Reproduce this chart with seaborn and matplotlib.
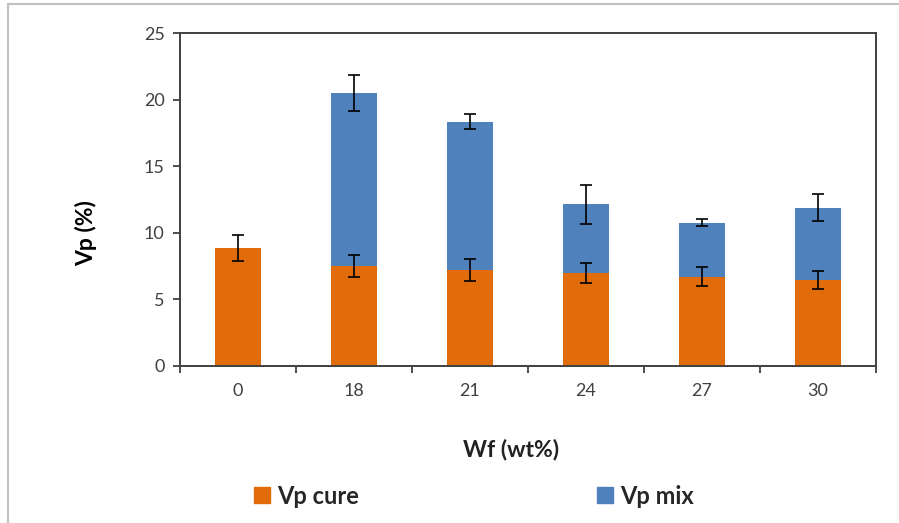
import numpy as np
import pandas as pd
import matplotlib
matplotlib.use("Agg")
import matplotlib.pyplot as plt
import seaborn as sns
from matplotlib.patches import Rectangle, Patch

# -------------------------------
# Data
# -------------------------------
wf_labels = ["0", "18", "21", "24", "27", "30"]
vp_cure = [8.85, 7.5, 7.2, 6.95, 6.7, 6.45]
vp_cure_err = [0.95, 0.8, 0.82, 0.75, 0.7, 0.7]
vp_mix = [0.0, 13.0, 11.13, 5.18, 4.05, 5.43]
vp_total_err = [0.0, 1.35, 0.57, 1.45, 0.25, 1.0]

orange = "#E36C0A"
blue = "#4F81BD"

df = pd.DataFrame({
    "Wf": wf_labels,
    "cure": vp_cure,
    "mix": vp_mix,
})
df["total"] = df["cure"] + df["mix"]

# -------------------------------
# Style
# -------------------------------
sns.set_theme(style="ticks")
plt.rcParams["font.family"] = ["Lato", "DejaVu Sans"]

fig = plt.figure(figsize=(8.99, 5.23), dpi=100)
ax = fig.add_axes([180 / 899, 1 - 366 / 523, (876 - 180) / 899, (366 - 33) / 523])

# stacked bars: total (blue) first, cure (orange) drawn over it
sns.barplot(data=df, x="Wf", y="total", color=blue, width=0.4,
            saturation=1, linewidth=0, ax=ax)
sns.barplot(data=df, x="Wf", y="cure", color=orange, width=0.4,
            saturation=1, linewidth=0, ax=ax)

# error bars
pos = np.arange(len(wf_labels))
ax.errorbar(pos, df["cure"], yerr=vp_cure_err, fmt="none",
            ecolor="black", elinewidth=1.2, capsize=4.5, capthick=1.2)
has_mix = df["mix"] > 0
ax.errorbar(pos[has_mix], df["total"][has_mix],
            yerr=np.array(vp_total_err)[has_mix], fmt="none",
            ecolor="black", elinewidth=1.2, capsize=4.5, capthick=1.2)

# -------------------------------
# Axes
# -------------------------------
ax.set_xlim(-0.5, len(wf_labels) - 0.5)
ax.set_ylim(0, 25)
ax.set_yticks([0, 5, 10, 15, 20, 25])
ax.set_xticks(np.arange(-0.5, len(wf_labels)), minor=True)
ax.tick_params(axis="x", which="major", length=0, pad=12, labelsize=13)
ax.tick_params(axis="x", which="minor", length=5, width=1.3,
               direction="out", color="#404040")
ax.tick_params(axis="y", length=5, width=1.3, direction="out", pad=6,
               labelsize=13, color="#404040")
for lab in ax.get_xticklabels() + ax.get_yticklabels():
    lab.set_color("#404040")

for sp in ax.spines.values():
    sp.set_visible(True)
    sp.set_color("#404040")
    sp.set_linewidth(1.4)

ax.set_xlabel("")
ax.set_ylabel("")
fig.text(86 / 899, 1 - 233 / 523, "Vp (%)", rotation=90, ha="center",
         va="center", fontsize=16.5, fontweight="bold", color="black")
fig.text(511 / 899, 1 - 450 / 523, "Wf (wt%)", ha="center", va="center",
         fontsize=16.5, fontweight="bold", color="#222222")

# -------------------------------
# Legend
# -------------------------------
handles = [Patch(color=orange, label="Vp cure"),
           Patch(color=blue, label="Vp mix")]
fig.legend(handles=handles, loc="center", ncol=2,
           bbox_to_anchor=(474 / 899, 1 - 496 / 523), frameon=False,
           prop={"size": 17, "weight": "bold"}, handlelength=0.66,
           handleheight=0.66, handletextpad=0.3, columnspacing=10.1)

# outer frame (light grey, left and top visible)
fig.add_artist(Rectangle((8 / 899, -0.5), 2, 0.5 + 1 - 4 / 523,
                         transform=fig.transFigure, fill=False,
                         edgecolor="#c0c0c0", linewidth=1.5))

fig.savefig("out.png", dpi=100)
plt.close(fig)
